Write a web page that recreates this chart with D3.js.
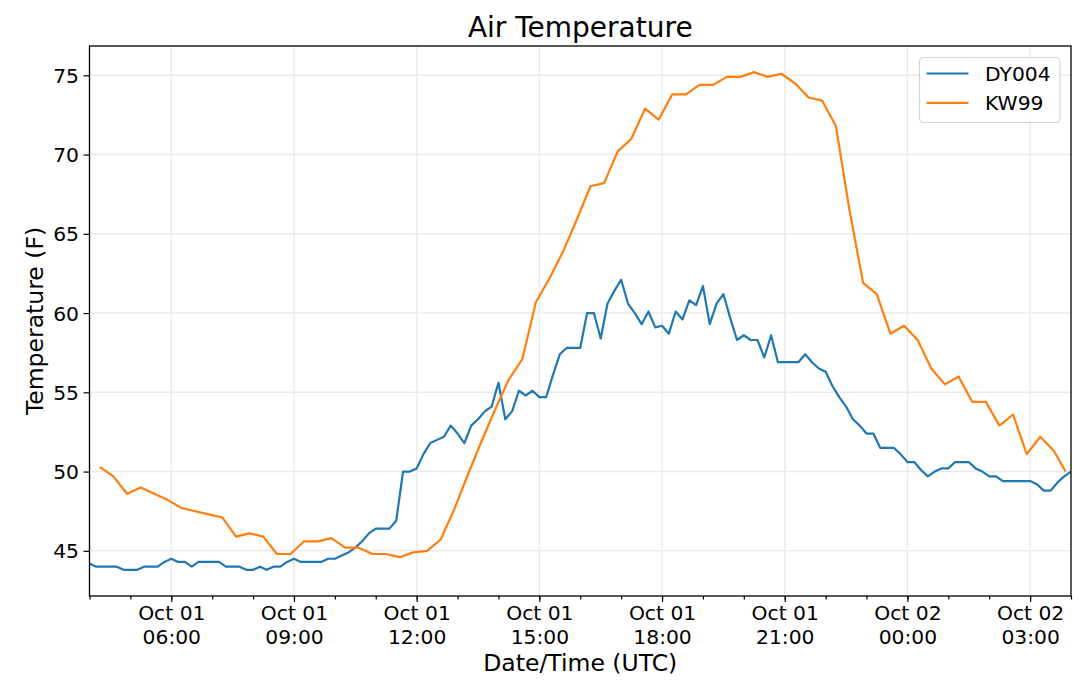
<!DOCTYPE html>
<html>
<head>
<meta charset="utf-8">
<script src="https://cdn.jsdelivr.net/npm/d3@7"></script>
<style>
  body { margin: 0; background: #fff; }
  text { font-family: "DejaVu Sans", sans-serif; fill: #000; }
</style>
</head>
<body>
<div id="chart"></div>
<script>
// station series
const seriesNames = ["DY004", "KW99"];
const seriesColors = ["#1f77b4", "#ff7f0e"];

// DY004: every 10 minutes from Oct 01 04:00 UTC
const dy004Start = "2019-10-01T04:00:00Z";
const dy004StepMin = 10;
const dy004Temps = [
  44.2, 44.0, 44.0, 44.0, 44.0, 43.8, 43.8, 43.8, 44.0, 44.0,
  44.0, 44.3, 44.5, 44.3, 44.3, 44.0, 44.3, 44.3, 44.3, 44.3,
  44.0, 44.0, 44.0, 43.8, 43.8, 44.0, 43.8, 44.0, 44.0, 44.3,
  44.5, 44.3, 44.3, 44.3, 44.3, 44.5, 44.5, 44.7, 44.9, 45.2,
  45.6, 46.1, 46.4, 46.4, 46.4, 46.9, 50.0, 50.0, 50.2, 51.1,
  51.8, 52.0, 52.2, 52.9, 52.4, 51.8, 52.9, 53.3, 53.8, 54.1,
  55.6, 53.3, 53.8, 55.1, 54.8, 55.1, 54.7, 54.7, 56.1, 57.4,
  57.8, 57.8, 57.8, 60.0, 60.0, 58.4, 60.6, 61.4, 62.1, 60.6,
  60.0, 59.3, 60.1, 59.1, 59.2, 58.7, 60.1, 59.6, 60.8, 60.5,
  61.7, 59.3, 60.6, 61.2, 59.7, 58.3, 58.6, 58.3, 58.3, 57.2,
  58.6, 56.9, 56.9, 56.9, 56.9, 57.4, 56.9, 56.5, 56.3, 55.4,
  54.7, 54.1, 53.3, 52.9, 52.4, 52.4, 51.5, 51.5, 51.5, 51.1,
  50.6, 50.6, 50.1, 49.7, 50.0, 50.2, 50.2, 50.6, 50.6, 50.6,
  50.2, 50.0, 49.7, 49.7, 49.4, 49.4, 49.4, 49.4, 49.4, 49.2,
  48.8, 48.8, 49.3, 49.7, 50.0
];

// KW99 report times (UTC) and temperatures
const kw99Times = [
  "10-01 04:15", "10-01 04:35", "10-01 04:55", "10-01 05:15", "10-01 05:35", "10-01 05:55",
  "10-01 06:15", "10-01 06:35", "10-01 06:55", "10-01 07:15", "10-01 07:35", "10-01 07:55",
  "10-01 08:15", "10-01 08:35", "10-01 08:55", "10-01 09:15", "10-01 09:35", "10-01 09:55",
  "10-01 10:15", "10-01 10:35", "10-01 10:55", "10-01 11:15", "10-01 11:35", "10-01 11:55",
  "10-01 12:15", "10-01 12:35", "10-01 12:55", "10-01 13:15", "10-01 13:35", "10-01 13:55",
  "10-01 14:15", "10-01 14:35", "10-01 14:55", "10-01 15:15", "10-01 15:35", "10-01 15:55",
  "10-01 16:15", "10-01 16:35", "10-01 16:55", "10-01 17:15", "10-01 17:35", "10-01 17:55",
  "10-01 18:15", "10-01 18:35", "10-01 18:55", "10-01 19:15", "10-01 19:35", "10-01 19:55",
  "10-01 20:15", "10-01 20:35", "10-01 20:55", "10-01 21:15", "10-01 21:35", "10-01 21:55",
  "10-01 22:15", "10-01 22:35", "10-01 22:55", "10-01 23:15", "10-01 23:35", "10-01 23:55",
  "10-02 00:15", "10-02 00:35", "10-02 00:55", "10-02 01:15", "10-02 01:35", "10-02 01:55",
  "10-02 02:15", "10-02 02:35", "10-02 02:55", "10-02 03:15", "10-02 03:35", "10-02 03:52"
];
const kw99Temps = [
  50.3, 49.7, 48.6, 49.0, 48.6, 48.2,
  47.7, 47.5, 47.3, 47.1, 45.9, 46.1,
  45.9, 44.8, 44.8, 45.6, 45.6, 45.8,
  45.2, 45.2, 44.8, 44.8, 44.6, 44.9,
  45.0, 45.7, 47.6, 49.8, 51.9, 53.9,
  55.8, 57.1, 60.7, 62.2, 63.9, 65.9,
  68.0, 68.2, 70.2, 71.0, 72.9, 72.2,
  73.8, 73.8, 74.4, 74.4, 74.9, 74.9,
  75.2, 74.9, 75.1, 74.5, 73.6, 73.4,
  71.8, 66.5, 61.9, 61.2, 58.7, 59.2,
  58.3, 56.5, 55.5, 56.0, 54.4, 54.4,
  52.9, 53.6, 51.1, 52.2, 51.3, 50.0
];

const yTicks = [45, 50, 55, 60, 65, 70, 75];
const titleText = "Air Temperature";
const xLabel = "Date/Time (UTC)";
const yLabel = "Temperature (F)";

// figure geometry
const W = 1080, H = 696;
const plot = { left: 89.5, right: 1071, top: 46, bottom: 596 };

const parseKw = d3.utcParse("%Y-%m-%d %H:%M");
const t0 = new Date(dy004Start);

const dyData = dy004Temps.map((v, i) => ({ t: d3.utcMinute.offset(t0, i * dy004StepMin), v: v }));
const kwData = kw99Times.map((s, i) => ({ t: parseKw("2019-" + s), v: kw99Temps[i] }));

const x = d3.scaleUtc()
  .domain([t0, d3.utcHour.offset(t0, 24)])
  .range([plot.left, plot.right]);

const y = d3.scaleLinear()
  .domain([42.15, 76.85])
  .range([plot.bottom, plot.top]);

const svg = d3.select("#chart")
  .append("svg")
  .attr("width", W)
  .attr("height", H);

svg.append("rect").attr("width", W).attr("height", H).attr("fill", "#fff");

const majorTicks = x.ticks(d3.utcHour.every(3));
const minorTicks = x.ticks(d3.utcHour.every(1));

// grid
const grid = svg.append("g").attr("stroke", "#ebebeb").attr("stroke-width", 1.5);
grid.selectAll("line.gx")
  .data(majorTicks)
  .join("line")
  .attr("class", "gx")
  .attr("x1", d => x(d)).attr("x2", d => x(d))
  .attr("y1", plot.top).attr("y2", plot.bottom);
grid.selectAll("line.gy")
  .data(yTicks)
  .join("line")
  .attr("class", "gy")
  .attr("x1", plot.left).attr("x2", plot.right)
  .attr("y1", d => y(d)).attr("y2", d => y(d));

// lines
const line = d3.line().x(d => x(d.t)).y(d => y(d.v));

svg.append("defs").append("clipPath").attr("id", "clip")
  .append("rect")
  .attr("x", plot.left).attr("y", plot.top)
  .attr("width", plot.right - plot.left).attr("height", plot.bottom - plot.top);

const lines = svg.append("g").attr("clip-path", "url(#clip)");
[dyData, kwData].forEach((data, i) => {
  lines.append("path")
    .datum(data)
    .attr("fill", "none")
    .attr("stroke", seriesColors[i])
    .attr("stroke-width", 2.2)
    .attr("stroke-linejoin", "round")
    .attr("d", line);
});

// x axis: minor hourly ticks, major every 3 h with two-line labels
svg.append("g")
  .attr("transform", `translate(0,${plot.bottom})`)
  .call(d3.axisBottom(x).tickValues(minorTicks).tickSize(3.5).tickFormat(""))
  .call(g => g.select(".domain").remove())
  .selectAll("line").attr("stroke", "#000").attr("stroke-width", 1.2);

const fmtDay = d3.utcFormat("%b %d");
const fmtHour = d3.utcFormat("%H:%M");

const xAxis = svg.append("g")
  .attr("transform", `translate(0,${plot.bottom})`)
  .call(d3.axisBottom(x).tickValues(majorTicks).tickSize(6).tickPadding(0).tickFormat(""));
xAxis.select(".domain").remove();
xAxis.selectAll("line").attr("stroke", "#000").attr("stroke-width", 1.2);
xAxis.selectAll(".tick text").remove();
xAxis.selectAll(".tick").each(function (d) {
  const t = d3.select(this).append("text")
    .attr("text-anchor", "middle")
    .attr("font-size", 20.3)
    .attr("fill", "#000");
  t.append("tspan").attr("x", 0).attr("y", 24).text(fmtDay(d));
  t.append("tspan").attr("x", 0).attr("y", 47.5).text(fmtHour(d));
});

// y axis
const yAxis = svg.append("g")
  .attr("transform", `translate(${plot.left},0)`)
  .call(d3.axisLeft(y).tickValues(yTicks).tickSize(6).tickPadding(4.5));
yAxis.select(".domain").remove();
yAxis.selectAll("line").attr("stroke", "#000").attr("stroke-width", 1.2);
yAxis.selectAll("text")
  .attr("font-size", 20.3)
  .attr("font-family", "DejaVu Sans")
  .attr("fill", "#000")
  .attr("dy", "0.35em");

// spines
svg.append("rect")
  .attr("x", plot.left).attr("y", plot.top)
  .attr("width", plot.right - plot.left).attr("height", plot.bottom - plot.top)
  .attr("fill", "none").attr("stroke", "#000").attr("stroke-width", 1.3);

// labels
svg.append("text")
  .attr("x", (plot.left + plot.right) / 2).attr("y", 37)
  .attr("text-anchor", "middle").attr("font-size", 28)
  .text(titleText);

svg.append("text")
  .attr("x", (plot.left + plot.right) / 2).attr("y", 671)
  .attr("text-anchor", "middle").attr("font-size", 23.5)
  .text(xLabel);

svg.append("text")
  .attr("transform", `translate(43,${(plot.top + plot.bottom) / 2}) rotate(-90)`)
  .attr("text-anchor", "middle").attr("font-size", 23.5)
  .text(yLabel);

// legend
const legend = svg.append("g").attr("transform", "translate(919.5,57.5)");
legend.append("rect")
  .attr("width", 140.5).attr("height", 65).attr("rx", 4)
  .attr("fill", "#fff").attr("fill-opacity", 0.8)
  .attr("stroke", "#d4d4d4").attr("stroke-width", 1.2);
seriesNames.forEach((name, i) => {
  const ly = 16 + i * 29.4;
  legend.append("line")
    .attr("x1", 7).attr("x2", 49)
    .attr("y1", ly).attr("y2", ly)
    .attr("stroke", seriesColors[i]).attr("stroke-width", 2.2);
  legend.append("text")
    .attr("x", 65.5).attr("y", ly + 7.3)
    .attr("font-size", 20.3)
    .text(name);
});
</script>
</body>
</html>
